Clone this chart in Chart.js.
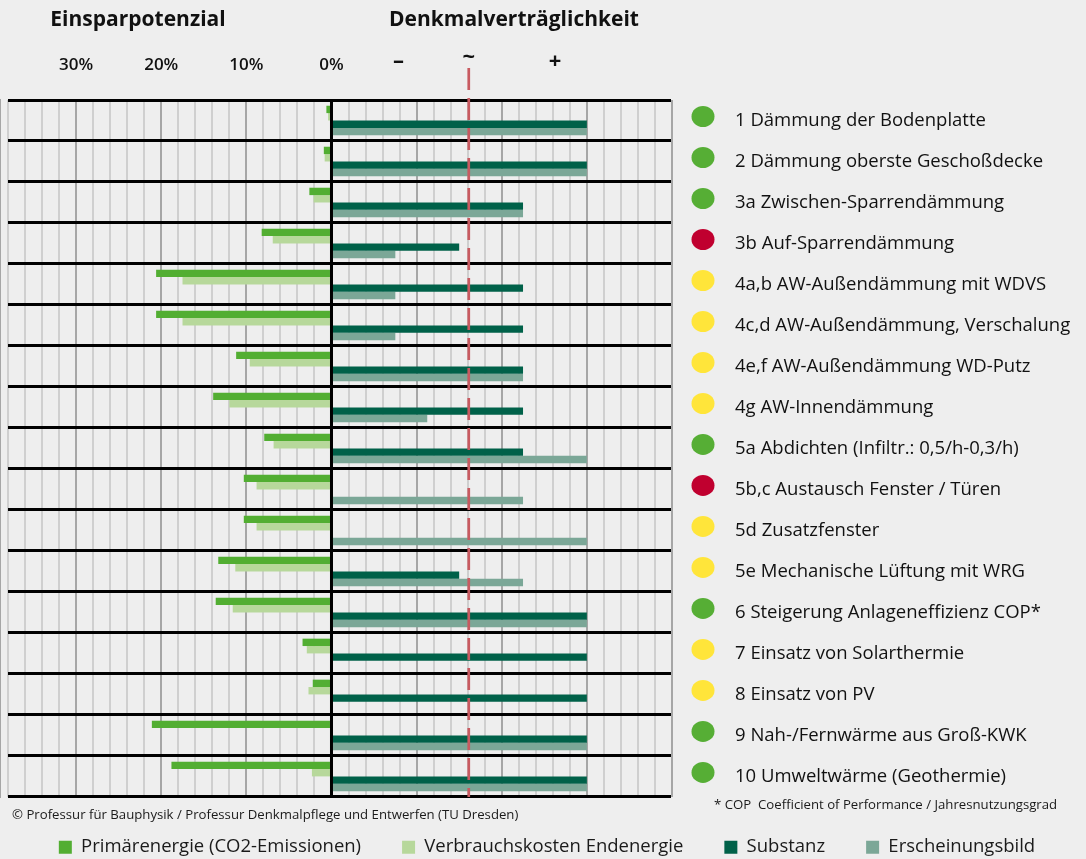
<!DOCTYPE html>
<html lang="de">
<head>
<meta charset="UTF-8">
<title>Einsparpotenzial und Denkmalverträglichkeit</title>
<script src="https://cdn.jsdelivr.net/npm/chart.js"></script>
<style>
  html, body { margin: 0; padding: 0; background: #eeeeee; overflow: hidden; }
  /* a bit taller than the window so the legend sits low, as in the original */
  #wrap { position: relative; width: 1086px; height: 871px; }
</style>
</head>
<body>
<div id="wrap"><canvas id="massnahmen"></canvas></div>
<script>
// Maßnahmen (y categories)
const measures = [
  '1 Dämmung der Bodenplatte',
  '2 Dämmung oberste Geschoßdecke',
  '3a Zwischen-Sparrendämmung',
  '3b Auf-Sparrendämmung',
  '4a,b AW-Außendämmung mit WDVS',
  '4c,d AW-Außendämmung, Verschalung',
  '4e,f AW-Außendämmung WD-Putz',
  '4g AW-Innendämmung',
  '5a Abdichten (Infiltr.: 0,5/h-0,3/h)',
  '5b,c Austausch Fenster / Türen',
  '5d Zusatzfenster',
  '5e Mechanische Lüftung mit WRG',
  '6 Steigerung Anlageneffizienz COP*',
  '7 Einsatz von Solarthermie',
  '8 Einsatz von PV',
  '9 Nah-/Fernwärme aus Groß-KWK',
  '10 Umweltwärme (Geothermie)'
];
// Ampel next to each measure
const ratings = ['green','green','green','red','yellow','yellow','yellow','yellow','green','red','yellow','yellow','green','yellow','yellow','green','green'];

// Einsparpotenzial in %
const primaryEnergy = [0.6, 0.9, 2.6, 8.2, 20.6, 20.6, 11.2, 13.9, 7.9, 10.3, 10.3, 13.3, 13.6, 3.4, 2.2, 21.1, 18.8];
const energyCost    = [0.4, 0.8, 2.1, 6.9, 17.5, 17.5, 9.6, 12.0, 6.8, 8.8, 8.8, 11.3, 11.6, 2.9, 2.7, 0, 2.3];

// Denkmalverträglichkeit (levels 0..4)
const substance  = [4, 4, 3, 2, 3, 3, 3, 3, 3, 0, 0, 2, 4, 4, 4, 4, 4];
const appearance = [4, 4, 3, 1, 1, 1, 3, 1.5, 4, 3, 4, 3, 4, 0, 0, 4, 4];

// axis labels
const savingTicks = [30, 20, 10, 0];
const compatTickLabels = ['–', '~', '+'];
const compatTickPos = [1.05, 2.15, 3.5];
const compatNeutral = 2.15;

const savingMin = -38, savingMax = 40;
const pctPerLevel = 7.5;   // one compatibility level spans 7.5 % of the saving axis

const ratingColors = { green: '#56ae35', red: '#c0002f', yellow: '#ffe53a' };

Chart.defaults.font.family = '"Open Sans", sans-serif';
Chart.defaults.color = '#1a1a1a';

const decor = {
  id: 'decor',
  afterDraw(chart) {
    const ctx = chart.ctx;
    const area = chart.chartArea;
    const xP = chart.scales.xP, xD = chart.scales.xD, y = chart.scales.y;
    ctx.save();

    // headings
    ctx.fillStyle = '#111';
    ctx.font = 'bold 21px "Open Sans"';
    ctx.textAlign = 'center';
    ctx.textBaseline = 'middle';
    ctx.fillText('Einsparpotenzial', 138, 20);
    ctx.fillText('Denkmalverträglichkeit', 514, 20);

    // compatibility tick labels
    ctx.font = 'bold 22px "Open Sans"';
    compatTickLabels.forEach((t, i) => {
      ctx.fillText(t, xD.getPixelForValue(compatTickPos[i]), i === 1 ? 58 : 62);
    });

    // zero line
    ctx.strokeStyle = '#000';
    ctx.lineWidth = 3;
    const x0 = xP.getPixelForValue(0);
    ctx.beginPath();
    ctx.moveTo(x0, area.top - 1);
    ctx.lineTo(x0, area.bottom + 1);
    ctx.stroke();

    // neutral compatibility line
    const xn = xD.getPixelForValue(compatNeutral);
    ctx.strokeStyle = '#c85a60';
    ctx.lineWidth = 2.7;
    ctx.setLineDash([22, 8]);
    ctx.beginPath();
    ctx.moveTo(xn, 68);
    ctx.lineTo(xn, area.bottom);
    ctx.stroke();
    ctx.setLineDash([]);

    // rating dots
    measures.forEach((m, i) => {
      ctx.beginPath();
      ctx.ellipse(area.right + 31, y.getPixelForValue(i) - 4, 11.5, 10.5, 0, 0, 2 * Math.PI);
      ctx.fillStyle = ratingColors[ratings[i]];
      ctx.fill();
    });

    // notes
    ctx.fillStyle = '#1a1a1a';
    ctx.font = '13.2px "Open Sans"';
    ctx.textAlign = 'left';
    ctx.fillText('© Professur für Bauphysik / Professur Denkmalpflege und Entwerfen (TU Dresden)', 12, 815);
    ctx.fillText('* COP  Coefficient of Performance / Jahresnutzungsgrad', 714, 805);
    ctx.restore();
  }
};

new Chart(document.getElementById('massnahmen'), {
  type: 'bar',
  data: {
    labels: measures,
    datasets: [
      { label: 'Primärenergie (CO2-Emissionen)', data: primaryEnergy.map(v => -v), xAxisID: 'xP', backgroundColor: '#52ae32' },
      { label: 'Verbrauchskosten Endenergie', data: energyCost.map(v => -v), xAxisID: 'xP', backgroundColor: '#b7d89b' },
      { label: 'Substanz', data: substance, xAxisID: 'xD', backgroundColor: '#006149' },
      { label: 'Erscheinungsbild', data: appearance, xAxisID: 'xD', backgroundColor: '#7ba797' }
    ]
  },
  options: {
    indexAxis: 'y',
    responsive: true,
    maintainAspectRatio: false,
    animation: false,
    datasets: {
      bar: { categoryPercentage: 0.72, barPercentage: 1.0, borderWidth: 0 }
    },
    layout: { padding: { left: 8, top: 0, right: 0, bottom: 0 } },
    scales: {
      xP: {
        type: 'linear',
        position: 'top',
        min: savingMin,
        max: savingMax,
        afterFit: s => { s.height = 100; s.paddingLeft = 0; s.paddingRight = 0; },
        border: { display: false },
        grid: {
          drawTicks: false,
          color: c => c.tick.value === 0 ? '#000' : (c.tick.value % 10 === 0 ? '#a6a6a6' : '#cfcfcf'),
          lineWidth: c => c.tick.value === 0 ? 3 : 2
        },
        ticks: {
          stepSize: 2,
          maxTicksLimit: 100,
          autoSkip: false,
          maxRotation: 0,
          minRotation: 0,
          padding: 25,
          color: '#111',
          font: { size: 17, weight: '600' },
          callback: v => (v <= 0 && savingTicks.includes(-v)) ? Math.abs(v) + '%' : ''
        }
      },
      xD: {
        type: 'linear',
        display: false,
        min: savingMin / pctPerLevel,
        max: savingMax / pctPerLevel
      },
      y: {
        type: 'category',
        position: 'right',
        offset: true,
        afterFit: s => { s.width = 414; },
        border: { display: true, color: '#a6a6a6', width: 2 },
        grid: { offset: true, drawTicks: false, color: '#000', lineWidth: 3, z: 1 },
        ticks: { padding: 63, crossAlign: 'near', color: '#111', font: { size: 18.5 } }
      }
    },
    plugins: {
      legend: {
        position: 'bottom',
        labels: { boxWidth: 13, boxHeight: 13, padding: 41, color: '#1a1a1a', font: { size: 18.5 } }
      },
      tooltip: { enabled: true }
    }
  },
  plugins: [decor]
});
</script>
</body>
</html>
